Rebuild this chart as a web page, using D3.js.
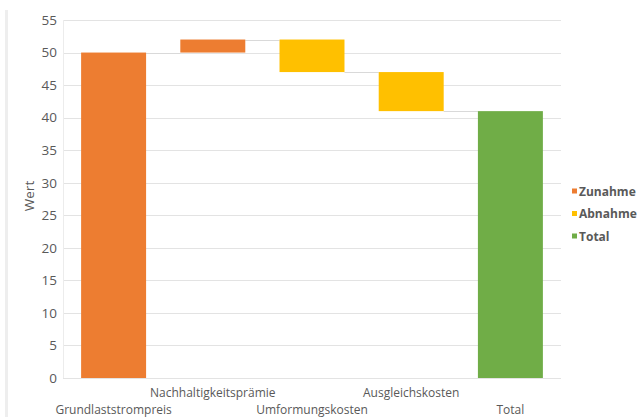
<!DOCTYPE html>
<html>
<head>
<meta charset="utf-8">
<script src="https://cdn.jsdelivr.net/npm/d3@7"></script>
<style>
  html, body { margin: 0; padding: 0; background: #fff; }
  svg { display: block; font-family: "Open Sans", "Noto Sans", sans-serif; }
</style>
</head>
<body>
<svg id="chart" width="639" height="417"></svg>
<script>
// Waterfall data
const categories = ["Grundlaststrompreis", "Nachhaltigkeitsprämie", "Umformungskosten", "Ausgleichskosten", "Total"];
const changes = [50, 2, -5, -6, 41];
const kinds = ["Zunahme", "Zunahme", "Abnahme", "Abnahme", "Total"];
const yTicks = [0, 5, 10, 15, 20, 25, 30, 35, 40, 45, 50, 55];
const legendItems = ["Zunahme", "Abnahme", "Total"];
const colors = { Zunahme: "#ED7D31", Abnahme: "#FFC000", Total: "#70AD47" };

// Compute start/end of each step
let running = 0;
const steps = categories.map((c, i) => {
  let start, end;
  if (kinds[i] === "Total") { start = 0; end = changes[i]; running = end; }
  else { start = running; end = running + changes[i]; running = end; }
  return { cat: c, kind: kinds[i], start, end };
});

const svg = d3.select("#chart");
const plotLeft = 64, plotRight = 560, plotTop = 20, plotBottom = 378;

const x = d3.scaleBand().domain(categories).range([plotLeft, plotRight])
  .paddingInner(0.345).paddingOuter(0.1725);
const y = d3.scaleLinear().domain([0, 55]).range([plotBottom, plotTop]);

// light frame edge on the left
svg.append("rect").attr("x", 5).attr("y", 10).attr("width", 3).attr("height", 407).attr("fill", "#eeeeee");

// gridlines
svg.append("g").selectAll("line").data(yTicks).join("line")
  .attr("x1", plotLeft - 1).attr("x2", plotRight + 1)
  .attr("y1", d => Math.round(y(d)) + 0.5).attr("y2", d => Math.round(y(d)) + 0.5)
  .attr("stroke", "#e3e3e3").attr("stroke-width", 1);

// axis line
svg.append("line").attr("x1", plotLeft - 0.5).attr("x2", plotLeft - 0.5).attr("y1", plotTop).attr("y2", plotBottom)
  .attr("stroke", "#ececec");

// y axis tick labels
const yAxis = d3.axisLeft(y).tickValues(yTicks).tickSize(0).tickPadding(6);
const gy = svg.append("g").attr("transform", `translate(${plotLeft - 1},0)`).call(yAxis);
gy.select(".domain").remove();
gy.selectAll("text").attr("fill", "#595959").style("font-size", "13.5px")
  .style("font-family", "'Open Sans', 'Noto Sans', sans-serif");

// y title
svg.append("text").attr("transform", "translate(34,196) rotate(-90)")
  .attr("text-anchor", "middle").attr("fill", "#595959").style("font-size", "13.5px").text("Wert");

// connectors between steps
svg.append("g").selectAll("line").data(steps.slice(0, -1)).join("line")
  .attr("x1", d => x(d.cat) + x.bandwidth())
  .attr("x2", (d, i) => x(categories[i + 1]))
  .attr("y1", d => Math.round(y(d.end)) + 0.5).attr("y2", d => Math.round(y(d.end)) + 0.5)
  .attr("stroke", "#d9d9d9");

// bars
svg.append("g").selectAll("rect").data(steps).join("rect")
  .attr("x", d => x(d.cat)).attr("width", x.bandwidth())
  .attr("y", d => y(Math.max(d.start, d.end)))
  .attr("height", d => Math.abs(y(d.start) - y(d.end)))
  .attr("fill", d => colors[d.kind]);

// category labels, staggered
svg.append("g").selectAll("text").data(categories).join("text")
  .attr("x", d => x(d) + x.bandwidth() / 2)
  .attr("y", (d, i) => i % 2 === 0 ? 414 : 397)
  .attr("text-anchor", "middle").attr("fill", "#595959").style("font-size", "12px")
  .text(d => d);

// legend
const lg = svg.append("g").selectAll("g").data(legendItems).join("g")
  .attr("transform", (d, i) => `translate(572,${191 + i * 22.5})`);
lg.append("rect").attr("x", 0).attr("y", -2.5).attr("width", 5).attr("height", 5).attr("fill", d => colors[d]);
lg.append("text").attr("x", 7).attr("y", 4.5).attr("fill", "#595959")
  .style("font-size", "12px").style("font-weight", "bold").text(d => d);
</script>
</body>
</html>
